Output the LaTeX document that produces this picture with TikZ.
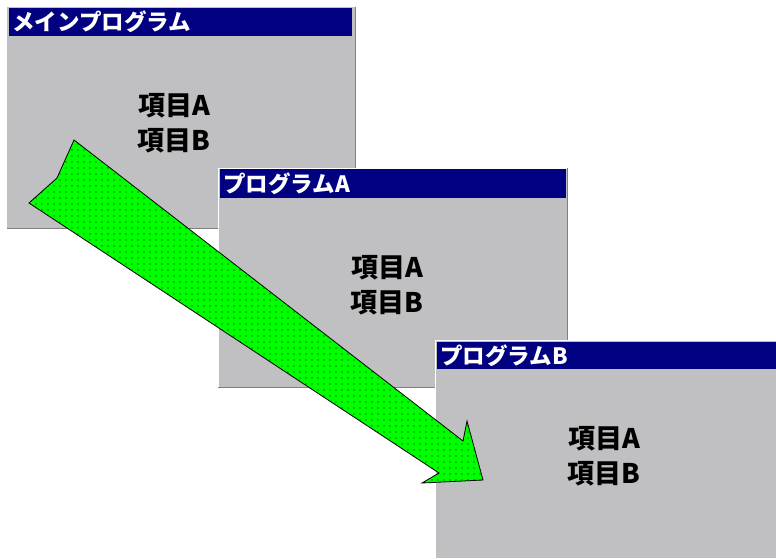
\documentclass[tikz,border=0pt]{standalone}
\usepackage{fontspec}
\setmainfont{Noto Sans CJK JP}
\usepackage{tikz}
\usetikzlibrary{patterns.meta}
\definecolor{titlebar}{RGB}{0,0,128}
\definecolor{winbg}{RGB}{192,192,194}
\definecolor{arrowgreen}{RGB}{0,255,0}

\begin{document}
\begin{tikzpicture}[x=1pt,y=-1pt,
        win/.style={rectangle, fill=winbg, anchor=north west, inner sep=0pt},
        bar/.style={rectangle, fill=titlebar, anchor=north west, inner xsep=3pt, inner ysep=0pt, align=left, text=white, font=\fontsize{22.5}{22.5}\selectfont\bfseries},
        item/.style={align=center, font=\fontsize{27}{35}\selectfont\bfseries}]
        \useasboundingbox (0,0) rectangle (776,558);
        \fill [white] (0,0) rectangle (776,558);
        % main program
        \node [win, minimum width=348pt, minimum height=221pt] (main) at (7,7) {};
        \draw [gray] (main.north east) -- (main.south east) -- (main.south west);
        \node [bar, text width=337pt, minimum height=28pt] (mainbar) at (9,8) {メインプログラム};
        \node [item] (mainitems) at (174,123) {項目A\\項目B};
        % program A
        \node [win, minimum width=349pt, minimum height=219pt] (proga) at (218,168) {};
        \draw [white, thick] (proga.south west) -- (proga.north west) -- (proga.north east);
        \draw [gray] (proga.north east) -- (proga.south east) -- (proga.south west);
        \node [bar, text width=340pt, minimum height=29pt] (progabar) at (220,169) {プログラムA};
        \node [item] (progaitems) at (387,285) {項目A\\項目B};
        % program B
        \node [win, minimum width=341pt, minimum height=218pt] (progb) at (435,340) {};
        \draw [white, thick] (progb.south west) -- (progb.north west) -- (progb.north east);
        \node [bar, text width=333pt, minimum height=27pt] (progbbar) at (437,342) {プログラムB};
        \node [item] (progbitems) at (604,456) {項目A\\項目B};
        % arrow
        \draw [line width=0.8pt, preaction={fill=arrowgreen}, pattern={Dots[distance=6pt, radius=0.7pt]}, pattern color=black]
            (74,140) -- (463,441) -- (467,421) -- (483,480) -- (422,483) -- (439,473) -- (29,203) -- (57,178) -- cycle;
\end{tikzpicture}
\end{document}
